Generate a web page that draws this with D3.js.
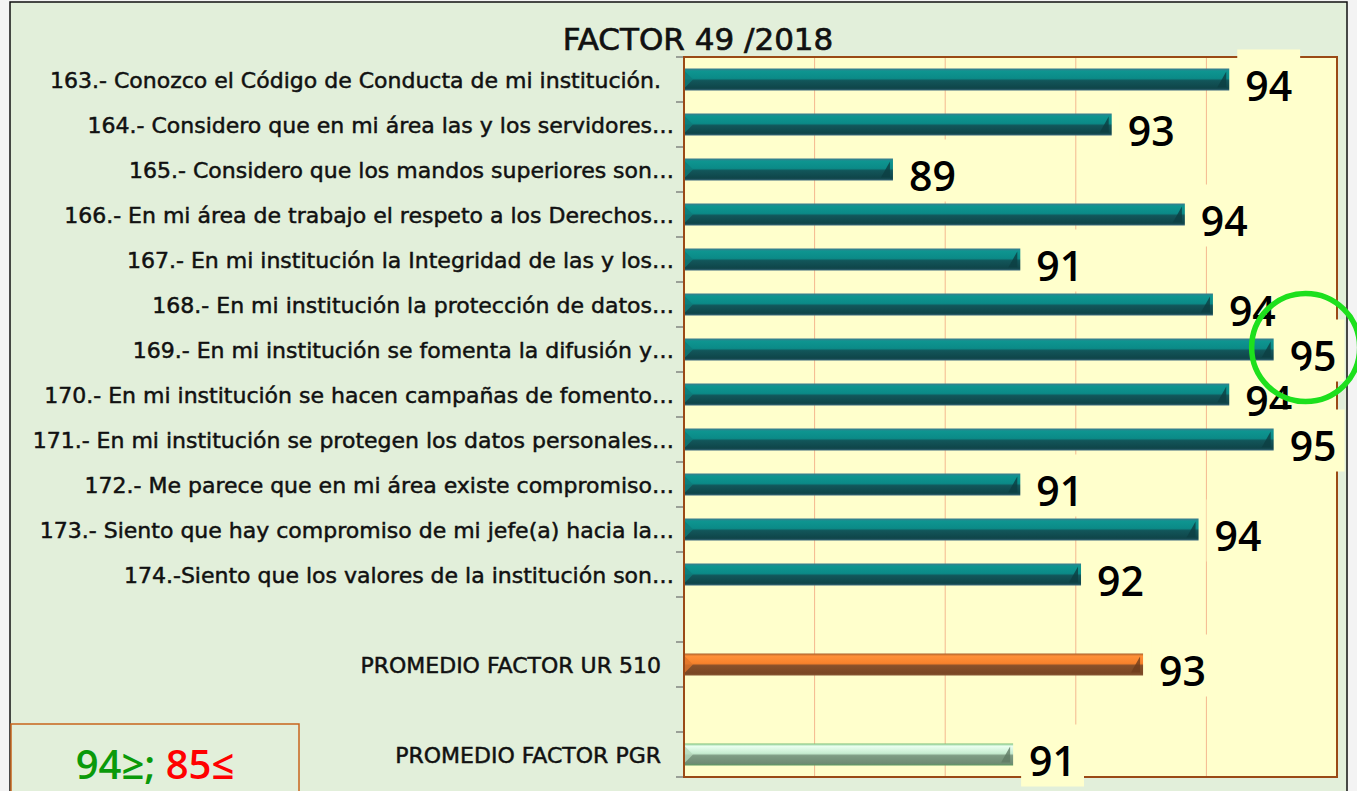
<!DOCTYPE html>
<html>
<head>
<meta charset="utf-8">
<script src="https://cdn.jsdelivr.net/npm/d3@7"></script>
<style>
  html, body { margin: 0; padding: 0; background: #f3f3f3; }
  svg { display: block; }
</style>
</head>
<body>
<svg id="chart" width="1357" height="791"></svg>
<script>
// FACTOR 49 / 2018 - horizontal bar chart

const CATEGORIES = [
    "163.- Conozco el Código de Conducta de mi institución.",
    "164.- Considero que en mi área las y los servidores…",
    "165.- Considero que los mandos superiores son…",
    "166.- En mi área de trabajo el respeto a los Derechos…",
    "167.- En mi institución la Integridad de las y los…",
    "168.- En mi institución la protección de datos…",
    "169.- En mi institución se fomenta la difusión y…",
    "170.- En mi institución se hacen campañas de fomento…",
    "171.- En mi institución se protegen los datos personales…",
    "172.- Me parece que en mi área existe compromiso…",
    "173.- Siento que hay compromiso de mi jefe(a) hacia la…",
    "174.-Siento que los valores de la institución son…",
    "",
    "PROMEDIO FACTOR UR 510",
    "",
    "PROMEDIO FACTOR PGR"
];

const VALUES = [94.35, 92.55, 89.2, 93.67, 91.15, 94.1, 95.03, 94.35, 95.03, 91.15, 93.88, 92.08, null, 93.03, null, 91.04];
const SERIES = ["item", "item", "item", "item", "item", "item", "item", "item", "item", "item", "item", "item", null, "ur", null, "pgr"];
const X_DOMAIN = [86, 96];
const X_TICKS = [86, 88, 90, 92, 94, 96];
const TITLE = "FACTOR 49 /2018";
const HIGHLIGHT_INDEX = 6;

const svg = d3.select("#chart");
const W = 1357, H = 791;
const plot = { left: 684, right: 1337, top: 57, bottom: 777 };
const LABEL_FONT = "'DejaVu Sans', 'Open Sans', sans-serif";

// page background and frame
svg.append("rect").attr("x", 10).attr("y", 2).attr("width", 1337).attr("height", H + 10)
    .attr("fill", "#e2efda").attr("stroke", "#111").attr("stroke-width", 1.5);

const defs = svg.append("defs");
const gradStops = {
    item: ["#3e7a8c", "#0e9590", "#0b8a87", "#12565a", "#0f4549", "#3d6a7e"],
    ur:   ["#a8602c", "#ff9038", "#f7822c", "#87502a", "#7a4724", "#8a5a36"],
    pgr:  ["#78c078", "#eafff0", "#c6ecd0", "#7f9c84", "#6f8c74", "#5e9a62"]
};
Object.entries(gradStops).forEach(([key, c]) => {
    const g = defs.append("linearGradient").attr("id", "grad-" + key)
        .attr("x1", 0).attr("y1", 0).attr("x2", 0).attr("y2", 1);
    [[0, c[0]], [0.12, c[1]], [0.45, c[2]], [0.55, c[3]], [0.9, c[4]], [1, c[5]]].forEach(([o, col]) => {
        g.append("stop").attr("offset", o).attr("stop-color", col);
    });
});

const x = d3.scaleLinear().domain(X_DOMAIN).range([plot.left, plot.right]);
const y = d3.scaleBand().domain(d3.range(CATEGORIES.length)).range([plot.top, plot.bottom]);
const barH = 22;

// plot area
svg.append("rect").attr("x", plot.left).attr("y", plot.top)
    .attr("width", plot.right - plot.left).attr("height", plot.bottom - plot.top)
    .attr("fill", "#ffffcc");

// gridlines
svg.append("g").selectAll("line")
    .data(X_TICKS.slice(1, -1))
    .join("line")
    .attr("x1", d => x(d)).attr("x2", d => x(d))
    .attr("y1", plot.top).attr("y2", plot.bottom)
    .attr("stroke", "#f4b88f").attr("stroke-width", 1);

// category ticks on left axis
svg.append("g").selectAll("line")
    .data(d3.range(CATEGORIES.length + 1))
    .join("line")
    .attr("x1", plot.left - 8).attr("x2", plot.left)
    .attr("y1", d => plot.top + d * y.step()).attr("y2", d => plot.top + d * y.step())
    .attr("stroke", "#6b6b6b").attr("stroke-width", 1.2);

// bars
const barData = VALUES.map((v, i) => ({ v, i, s: SERIES[i] })).filter(d => d.v != null);
const bars = svg.append("g").selectAll("g").data(barData).join("g");

bars.append("rect")
    .attr("x", plot.left)
    .attr("y", d => y(d.i) + y.bandwidth() / 2 - barH / 2)
    .attr("width", d => x(d.v) - plot.left)
    .attr("height", barH)
    .attr("fill", d => `url(#grad-${d.s})`);

// bevel at the bar end
bars.append("path")
    .attr("d", d => {
        const x1 = x(d.v), y0 = y(d.i) + y.bandwidth() / 2 - barH / 2;
        return `M${x1 - 3},${y0 + 3} L${x1 - 3},${y0 + barH - 3} L${x1 - 12},${y0 + barH - 3} Z`;
    })
    .attr("fill", d => d.s === "item" ? "#0c3e42" : d.s === "ur" ? "#6e3c1c" : "#5f7a64")
    .attr("opacity", 0.8);
bars.append("path")
    .attr("d", d => {
        const y0 = y(d.i) + y.bandwidth() / 2 - barH / 2;
        return `M${plot.left + 1},${y0 + 3} L${plot.left + 9},${y0 + barH / 2} L${plot.left + 1},${y0 + barH - 3} Z`;
    })
    .attr("fill", d => d.s === "item" ? "#0e7c7a" : d.s === "ur" ? "#e0752a" : "#b5d8bc")
    .attr("opacity", 0.8);

// plot border
svg.append("rect").attr("x", plot.left).attr("y", plot.top)
    .attr("width", plot.right - plot.left).attr("height", plot.bottom - plot.top)
    .attr("fill", "none").attr("stroke", "#9a4a16").attr("stroke-width", 2);

// value labels with background boxes
const labels = svg.append("g").selectAll("g").data(barData).join("g");
labels.each(function (d) {
    const g = d3.select(this);
    const cy = y(d.i) + y.bandwidth() / 2;
    const t = g.append("text")
        .attr("x", x(d.v) + 16)
        .attr("y", cy + 21)
        .attr("font-family", "'Open Sans', 'Noto Sans', sans-serif")
        .attr("font-weight", 600)
        .attr("font-size", 41)
        .attr("fill", "#000")
        .text(Math.round(d.v));
    const bb = t.node().getBBox();
    g.insert("rect", "text")
        .attr("x", bb.x - 8).attr("y", cy - 30)
        .attr("width", bb.width + 16).attr("height", 62)
        .attr("fill", "#ffffcc");
});

// highlight circle
const hi = y(HIGHLIGHT_INDEX) + y.bandwidth() / 2;
svg.append("ellipse")
    .attr("cx", x(VALUES[HIGHLIGHT_INDEX]) + 32).attr("cy", hi - 2)
    .attr("rx", 54).attr("ry", 54)
    .attr("fill", "none").attr("stroke", "#1de01d").attr("stroke-width", 5.5);

// category labels
svg.append("g").selectAll("text")
    .data(CATEGORIES.map((c, i) => ({ c, i })).filter(d => d.c))
    .join("text")
    .attr("x", d => d.c.endsWith("…") ? 674 : 661)
    .attr("y", d => y(d.i) + y.bandwidth() / 2 + 8)
    .attr("text-anchor", "end")
    .attr("font-family", LABEL_FONT)
    .attr("font-size", 22)
    .attr("fill", "#111")
    .attr("stroke", "#111")
    .attr("stroke-width", 0.5)
    .text(d => d.c);

// title
svg.append("text")
    .attr("x", 698).attr("y", 50)
    .attr("text-anchor", "middle")
    .attr("font-family", LABEL_FONT)
    .attr("font-size", 31)
    .attr("fill", "#111")
    .attr("stroke", "#111")
    .attr("stroke-width", 0.7)
    .text(TITLE);

// threshold box
svg.append("rect").attr("x", 11).attr("y", 724).attr("width", 288).attr("height", 80)
    .attr("fill", "#e2efda").attr("stroke", "#c8651c").attr("stroke-width", 1.5);
const note = svg.append("text")
    .attr("x", 155).attr("y", 779)
    .attr("text-anchor", "middle")
    .attr("font-family", "'Open Sans', 'Noto Sans', sans-serif")
    .attr("font-weight", 600)
    .attr("font-size", 40);
note.append("tspan").attr("fill", "#0a9a0a").text("94≥; ");
note.append("tspan").attr("fill", "#ff0000").text("85≤");
</script>
</body>
</html>
